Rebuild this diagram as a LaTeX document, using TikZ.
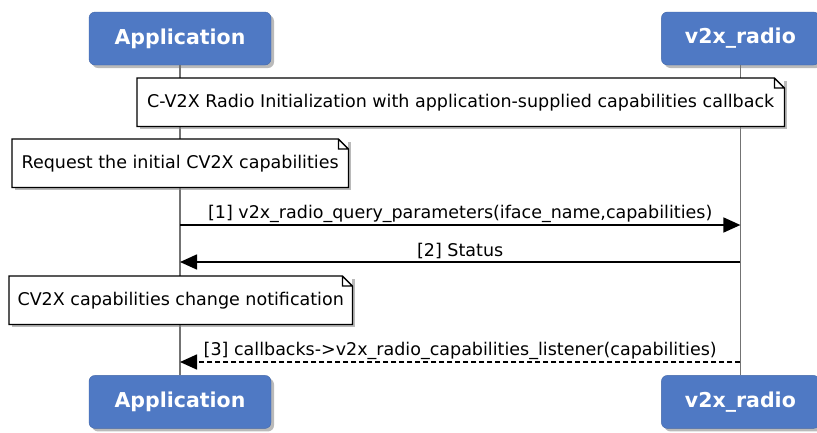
\documentclass[tikz,border=0pt]{standalone}
\usepackage{fontspec}
\setmainfont{DejaVu Sans}
\usetikzlibrary{arrows.meta, positioning, shadows}
\definecolor{partblue}{RGB}{79,121,196}

\begin{document}
\begin{tikzpicture}[
    x=1pt, y=-1pt,
    participant/.style={rectangle, draw=partblue!85!black, fill=partblue, rounded corners=6pt, minimum height=53pt, text=white, font=\fontsize{20.5}{24}\selectfont\bfseries, drop shadow={shadow xshift=3pt, shadow yshift=-3pt, fill=black!45, opacity=0.6}},
    note/.style={rectangle, fill=white, anchor=north west, minimum height=48pt, inner xsep=4pt, font=\fontsize{17.5}{20}\selectfont, drop shadow={shadow xshift=3pt, shadow yshift=-3pt, fill=black!45, opacity=0.6}},
    notebox/.style={draw=black, line width=1.3pt},
    lifeline/.style={draw=black!55, line width=1.4pt},
    msg/.style={-{Triangle[length=17pt,width=15pt]}, line width=1.6pt},
    reply/.style={msg, dash pattern=on 5pt off 3pt},
    msglabel/.style={above, inner sep=2pt, font=\fontsize{17.5}{20}\selectfont}
]
\useasboundingbox (0,0) rectangle (817,432);

% Participants
\node[participant, minimum width=182pt] (appTop) at (180,38.5) {Application};
\node[participant, minimum width=158pt, right=390pt of appTop] (radioTop) {v2x\_radio};
\node[participant, minimum width=182pt, below=310pt of appTop] (appBot) {Application};
\node[participant, minimum width=158pt, below=310pt of radioTop] (radioBot) {v2x\_radio};

% Lifelines
\draw[lifeline] (appTop.south) -- (appBot.north);
\draw[lifeline] (radioTop.south) -- (radioBot.north);

% Notes
\node[note, minimum width=647pt] (initnote) at (137,78) {C-V2X Radio Initialization with application-supplied capabilities callback};
\node[note, minimum width=336pt] (reqnote) at (12,139) {Request the initial CV2X capabilities};
\node[note, minimum width=343pt] (chgnote) at (9,276) {CV2X capabilities change notification};

\foreach \n in {initnote, reqnote, chgnote}
  \draw[notebox] (\n.north west) -- ([xshift=-10pt]\n.north east) -- ([yshift=-10pt]\n.north east) -- (\n.south east) -- (\n.south west) -- cycle
    ([xshift=-10pt]\n.north east) |- ([yshift=-10pt]\n.north east);

% Messages
\coordinate (m1) at (0,225);
\coordinate (m2) at (0,262);
\coordinate (m3) at (0,362);

\draw[msg] (appTop |- m1) -- (radioTop |- m1) node[msglabel, midway] {[1] v2x\_radio\_query\_parameters(iface\_name,capabilities)};
\draw[msg] (radioTop |- m2) -- (appTop |- m2) node[msglabel, midway] {[2] Status};
\draw[reply] (radioTop |- m3) -- (appTop |- m3) node[msglabel, midway] {[3] callbacks->v2x\_radio\_capabilities\_listener(capabilities)};

\end{tikzpicture}
\end{document}
